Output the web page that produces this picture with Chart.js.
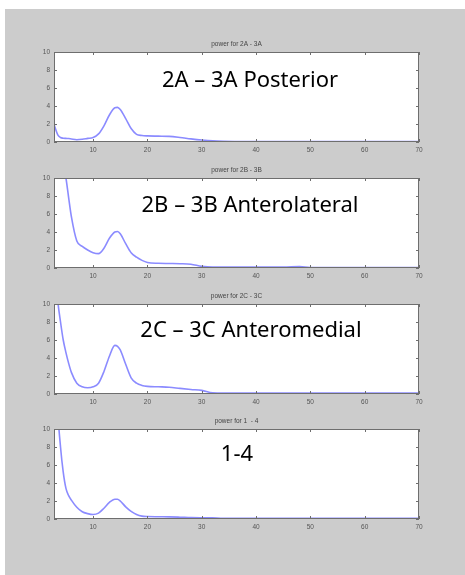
<!DOCTYPE html>
<html>
<head>
<meta charset="utf-8">
<script src="https://cdn.jsdelivr.net/npm/chart.js@4.4.1/dist/chart.umd.min.js"></script>
<style>
  html, body { margin: 0; padding: 0; background: #fff; }
  body { width: 465px; height: 575px; position: relative; overflow: hidden; }
  #bg { position: absolute; left: 5px; top: 9px; right: 0; bottom: 0; background: #cccccc; }
  .box { position: absolute; left: 0; width: 465px; height: 118px; }
  .lbl { position: absolute; transform: translate(-50%, -50%); font-family: "Noto Sans", sans-serif;
         font-size: 22px; color: #000; white-space: nowrap; line-height: 1; }
</style>
</head>
<body>
<div id="bg"></div>
<div class="box" style="top:38px"><canvas id="c1"></canvas></div>
<div class="box" style="top:164px"><canvas id="c2"></canvas></div>
<div class="box" style="top:290px"><canvas id="c3"></canvas></div>
<div class="box" style="top:415px"><canvas id="c4"></canvas></div>
<div class="lbl" style="left:250px; top:78px">2A – 3A Posterior</div>
<div class="lbl" style="left:250px; top:203px">2B – 3B Anterolateral</div>
<div class="lbl" style="left:251px; top:328px">2C – 3C Anteromedial</div>
<div class="lbl" style="left:237px; top:452px">1-4</div>
<script>
// frequency points (Hz) shared by all four panels
const freqs = [2.8, 3, 3.5, 4, 4.5, 5, 5.5, 6, 7, 8, 9, 10, 11, 12, 13, 14, 14.5, 15, 16, 17, 18, 19, 20,
  22, 24, 26, 28, 30, 32, 34, 36, 40, 45, 48, 50, 55, 60, 65, 70];

const power2A3A = [2.0, 1.6, 0.8, 0.5, 0.42, 0.4, 0.38, 0.33, 0.25, 0.3, 0.4, 0.5, 0.9, 1.8, 3.0, 3.8, 3.85, 3.6, 2.6, 1.5, 0.85, 0.72, 0.68,
  0.65, 0.62, 0.5, 0.35, 0.22, 0.12, 0.07, 0.05, 0.04, 0.04, 0.04, 0.04, 0.04, 0.04, 0.04, 0.04];
const power2B3B = [20, 18, 15, 13, 11.5, 10, 7.8, 5.7, 3.0, 2.4, 2.0, 1.7, 1.6, 2.2, 3.3, 4.0, 4.05, 3.8, 2.7, 1.7, 1.2, 0.85, 0.62,
  0.52, 0.5, 0.48, 0.42, 0.18, 0.1, 0.1, 0.1, 0.1, 0.1, 0.15, 0.06, 0.05, 0.05, 0.05, 0.05];
const power2C3C = [16, 14, 10.3, 8, 6, 4.6, 3.4, 2.4, 1.2, 0.8, 0.7, 0.8, 1.2, 2.5, 4.2, 5.4, 5.3, 4.9, 3.3, 1.8, 1.2, 0.95, 0.85,
  0.8, 0.75, 0.62, 0.5, 0.4, 0.12, 0.1, 0.1, 0.1, 0.1, 0.1, 0.1, 0.1, 0.1, 0.1, 0.1];
const power1to4 = [25, 20, 12, 8, 5.2, 3.4, 2.6, 2.1, 1.3, 0.8, 0.6, 0.5, 0.65, 1.2, 1.85, 2.2, 2.2, 2.0, 1.35, 0.85, 0.5, 0.32, 0.27,
  0.25, 0.24, 0.2, 0.15, 0.13, 0.12, 0.08, 0.08, 0.08, 0.08, 0.08, 0.08, 0.08, 0.08, 0.08, 0.08];

const xTicks = [10, 20, 30, 40, 50, 60, 70];
const yTicks = [0, 2, 4, 6, 8, 10];

// white plot area, box frame, inward tick marks and the small matlab-style title
const frame = {
  id: 'frame',
  beforeDatasetsDraw(chart) {
    const a = chart.chartArea, ctx = chart.ctx;
    ctx.save();
    ctx.fillStyle = '#fff';
    ctx.fillRect(a.left, a.top, a.right - a.left, a.bottom - a.top);
    ctx.restore();
  },
  afterDraw(chart, args, opts) {
    const a = chart.chartArea, ctx = chart.ctx;
    const xs = chart.scales.x, ys = chart.scales.y;
    ctx.save();
    ctx.strokeStyle = '#6e6e6e';
    ctx.lineWidth = 1;
    ctx.strokeRect(a.left + 0.5, a.top + 0.5, a.right - a.left - 1, a.bottom - a.top - 1);
    ctx.beginPath();
    xTicks.forEach(v => {
      const px = Math.round(xs.getPixelForValue(v)) + 0.5;
      ctx.moveTo(px, a.bottom); ctx.lineTo(px, a.bottom - 3);
      ctx.moveTo(px, a.top); ctx.lineTo(px, a.top + 3);
    });
    yTicks.forEach(v => {
      const py = Math.round(ys.getPixelForValue(v)) + 0.5;
      ctx.moveTo(a.left, py); ctx.lineTo(a.left + 3, py);
      ctx.moveTo(a.right, py); ctx.lineTo(a.right - 3, py);
    });
    ctx.stroke();
    ctx.fillStyle = '#444';
    ctx.font = '6.5px "Liberation Sans", sans-serif';
    ctx.textAlign = 'center';
    ctx.textBaseline = 'middle';
    ctx.fillText(opts.text, (a.left + a.right) / 2, a.top - 8);
    ctx.restore();
  }
};

function makeChart(id, title, values) {
  const pts = freqs.map((f, i) => ({ x: f, y: values[i] }));
  return new Chart(document.getElementById(id), {
    type: 'line',
    data: {
      datasets: [{
        data: pts,
        borderColor: 'rgba(100,100,255,0.75)',
        borderWidth: 1.6,
        pointRadius: 0,
        cubicInterpolationMode: 'monotone',
        fill: false
      }]
    },
    options: {
      responsive: true,
      maintainAspectRatio: false,
      animation: false,
      layout: { padding: { left: 34, right: 46, top: 14, bottom: 2 } },
      plugins: {
        legend: { display: false },
        tooltip: { enabled: false },
        title: { display: false },
        frame: { text: title }
      },
      scales: {
        x: {
          type: 'linear', min: 2.8, max: 70,
          afterBuildTicks: s => { s.ticks = xTicks.map(v => ({ value: v })); },
          afterFit: s => { s.height = 12; },
          grid: { display: false, drawTicks: false },
          border: { display: false },
          ticks: { color: '#555', font: { size: 6.5, family: '"Liberation Sans", sans-serif' }, padding: 4, maxRotation: 0 }
        },
        y: {
          min: 0, max: 10,
          afterBuildTicks: s => { s.ticks = yTicks.map(v => ({ value: v })); },
          afterFit: s => { s.width = 20; },
          grid: { display: false, drawTicks: false },
          border: { display: false },
          ticks: { color: '#555', font: { size: 6.5, family: '"Liberation Sans", sans-serif' }, padding: 4 }
        }
      }
    },
    plugins: [frame]
  });
}

makeChart('c1', 'power for 2A - 3A', power2A3A);
makeChart('c2', 'power for 2B - 3B', power2B3B);
makeChart('c3', 'power for 2C - 3C', power2C3C);
makeChart('c4', 'power for 1  - 4', power1to4);
</script>
</body>
</html>
